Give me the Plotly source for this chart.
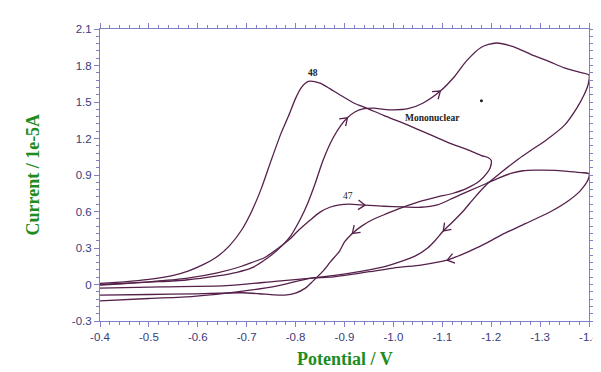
import numpy as np
import plotly.graph_objects as go

# ---------------- tick labels ----------------
x_tick_vals = [-0.4, -0.5, -0.6, -0.7, -0.8, -0.9, -1.0, -1.1, -1.2, -1.3, -1.4]
x_tick_text = ["-0.4", "-0.5", "-0.6", "-0.7", "-0.8", "-0.9", "-1.0", "-1.1", "-1.2", "-1.3", "-1.4"]
y_tick_vals = [-0.3, 0.0, 0.3, 0.6, 0.9, 1.2, 1.5, 1.8, 2.1]
y_tick_text = ["-0.3", "0", "0.3", "0.6", "0.9", "1.2", "1.5", "1.8", "2.1"]

# ---------------- curve "48" ----------------
x48_fwd = [-0.40, -0.45, -0.50, -0.55, -0.58, -0.612, -0.64, -0.665, -0.69, -0.71, -0.73, -0.75, -0.77,
           -0.785, -0.80, -0.812, -0.826, -0.85, -0.87, -0.89, -0.92, -0.945, -0.98, -1.03, -1.07,
           -1.116, -1.15, -1.18, -1.195, -1.20]
y48_fwd = [0.01, 0.022, 0.042, 0.075, 0.11, 0.165, 0.23, 0.32, 0.45, 0.60, 0.79, 1.02, 1.24,
           1.38, 1.53, 1.62, 1.67, 1.655, 1.61, 1.56, 1.49, 1.45, 1.39, 1.31, 1.24,
           1.16, 1.11, 1.06, 1.04, 1.02]
x48_rev = [-1.198, -1.192, -1.176, -1.15, -1.122, -1.09, -1.056, -1.016, -0.985, -0.956, -0.935, -0.916,
           -0.90, -0.89, -0.872, -0.856, -0.836, -0.82, -0.80, -0.778, -0.755, -0.726, -0.69, -0.59,
           -0.50, -0.40]
y48_rev = [0.96, 0.92, 0.85, 0.79, 0.75, 0.72, 0.686, 0.63, 0.58, 0.53, 0.48, 0.42,
           0.35, 0.275, 0.19, 0.11, 0.03, -0.03, -0.07, -0.087, -0.085, -0.076, -0.068, -0.077,
           -0.082, -0.087]

# ---------------- curve "Mononuclear" ----------------
xmono_fwd = [-0.40, -0.50, -0.576, -0.64, -0.68, -0.71, -0.75, -0.775, -0.79, -0.81, -0.825, -0.84,
             -0.856, -0.876, -0.893, -0.906, -0.922, -0.94, -0.96, -0.98, -1.0, -1.03, -1.06, -1.096,
             -1.125, -1.15, -1.18, -1.21, -1.245, -1.282, -1.32, -1.35, -1.38, -1.40]
ymono_fwd = [0.0, 0.02, 0.037, 0.07, 0.10, 0.136, 0.24, 0.33, 0.40, 0.54, 0.67, 0.83,
             1.02, 1.2, 1.31, 1.37, 1.42, 1.445, 1.45, 1.44, 1.435, 1.445, 1.49, 1.59,
             1.71, 1.84, 1.95, 1.985, 1.955, 1.89, 1.83, 1.78, 1.745, 1.72]
xmono_rev = [-1.398, -1.39, -1.375, -1.35, -1.31, -1.28, -1.255, -1.22, -1.19, -1.165, -1.142, -1.12,
             -1.102, -1.085, -1.07, -1.045, -1.016, -0.98, -0.936, -0.88, -0.832, -0.758, -0.658,
             -0.526, -0.40]
ymono_rev = [1.64, 1.56, 1.45, 1.31, 1.18, 1.10, 1.03, 0.92, 0.82, 0.71, 0.60, 0.51,
             0.44, 0.36, 0.30, 0.235, 0.19, 0.145, 0.11, 0.075, 0.053, 0.026, -0.01,
             -0.02, -0.03]

# ---------------- curve "47" ----------------
x47_fwd = [-0.40, -0.50, -0.576, -0.64, -0.69, -0.71, -0.736, -0.765, -0.79, -0.802, -0.83, -0.85,
           -0.87, -0.89, -0.91, -0.942, -0.98, -1.02, -1.056, -1.09, -1.122, -1.155, -1.19, -1.215,
           -1.242, -1.265, -1.29, -1.33, -1.356, -1.385, -1.40]
y47_fwd = [-0.005, 0.022, 0.05, 0.095, 0.15, 0.18, 0.22, 0.30, 0.38, 0.43, 0.53, 0.595,
           0.635, 0.655, 0.66, 0.652, 0.643, 0.638, 0.635, 0.655, 0.71, 0.77, 0.83, 0.875,
           0.915, 0.935, 0.94, 0.938, 0.93, 0.92, 0.91]
x47_rev = [-1.398, -1.382, -1.355, -1.322, -1.27, -1.222, -1.19, -1.156, -1.13, -1.11, -1.08, -1.056,
           -1.0, -0.95, -0.87, -0.832, -0.758, -0.692, -0.592, -0.50, -0.40]
y47_rev = [0.86, 0.77, 0.68, 0.60, 0.50, 0.41, 0.34, 0.275, 0.23, 0.20, 0.175, 0.16,
           0.135, 0.105, 0.06, 0.053, -0.015, -0.054, -0.097, -0.115, -0.135]

# stray dot in the original figure
dot_x = [-1.18]
dot_y = [1.51]

# ---------------- styling ----------------
LINE = "#55204a"
AXIS = "#8080c8"
TICKFONT = "#3a3a7c"
GREEN = "#1e8c1e"
W, H = 601, 372
ML, MR, MT, MB = 92, 9, 21, 59
X_RANGE = [-0.4, -1.4]
Y_RANGE = [-0.3, 2.1]
PX_X = (W - ML - MR) / abs(X_RANGE[1] - X_RANGE[0])
PX_Y = (H - MT - MB) / (Y_RANGE[1] - Y_RANGE[0])

fig = go.Figure()

for xf, yf, xr, yr in [(x48_fwd, y48_fwd, x48_rev, y48_rev),
                       (xmono_fwd, ymono_fwd, xmono_rev, ymono_rev),
                       (x47_fwd, y47_fwd, x47_rev, y47_rev)]:
    fig.add_trace(go.Scatter(x=xf + xr, y=yf + yr, mode="lines",
                             line=dict(color=LINE, width=1.3, shape="spline", smoothing=0.7),
                             hoverinfo="skip", showlegend=False))


def chevron(xs, ys, xv, length=8.5, ang=145):
    xs = np.asarray(xs)
    ys = np.asarray(ys)
    i = int(np.argmin(np.abs(xs - xv)))
    i = min(max(i, 1), len(xs) - 2)
    x0, y0 = xs[i], ys[i]
    dx = -(xs[i + 1] - xs[i - 1]) * PX_X
    dy = (ys[i + 1] - ys[i - 1]) * PX_Y
    n = np.hypot(dx, dy)
    dx, dy = dx / n, dy / n
    pts = []
    for s in (1, -1):
        a = np.radians(ang * s)
        ax = dx * np.cos(a) - dy * np.sin(a)
        ay = dx * np.sin(a) + dy * np.cos(a)
        pts.append((x0 + ax * length / (-PX_X), y0 + ay * length / PX_Y))
    return [pts[0][0], x0, pts[1][0], None], [pts[0][1], y0, pts[1][1], None]


arrows = [(xmono_fwd, ymono_fwd, -0.906), (xmono_fwd, ymono_fwd, -1.096),
          (x47_fwd, y47_fwd, -0.942), (x48_rev, y48_rev, -0.916),
          (xmono_rev, ymono_rev, -1.102), (x47_rev, y47_rev, -1.11)]
ax_all, ay_all = [], []
for xs, ys, xv in arrows:
    cx, cy = chevron(xs, ys, xv)
    ax_all += cx
    ay_all += cy
fig.add_trace(go.Scatter(x=ax_all, y=ay_all, mode="lines",
                         line=dict(color=LINE, width=1.3), hoverinfo="skip", showlegend=False))

fig.add_trace(go.Scatter(x=dot_x, y=dot_y, mode="markers",
                         marker=dict(color="#222222", size=3), hoverinfo="skip", showlegend=False))

label_font = dict(family="Liberation Serif", size=9.5, color="#222222")
fig.add_annotation(x=-0.836, y=1.735, text="<b>48</b>", showarrow=False, font=label_font)
fig.add_annotation(x=-1.08, y=1.37, text="<b>Mononuclear</b>", showarrow=False, font=label_font)
fig.add_annotation(x=-0.908, y=0.73, text="47", showarrow=False,
                   font=dict(family="Liberation Serif", size=9.5, color="#222222"))

title_font = dict(family="Liberation Serif", size=18, color=GREEN)
fig.add_annotation(xref="paper", yref="paper", x=(342 - ML) / (W - ML - MR), y=-(351 - (H - MB)) / (H - MT - MB),
                   text="<b>Potential / V</b>", showarrow=False, font=title_font,
                   xanchor="center", yanchor="middle")
fig.add_annotation(xref="paper", yref="paper", x=-(ML - 23) / (W - ML - MR), y=0.5,
                   text="<b>Current / 1e-5A</b>", showarrow=False, font=title_font, textangle=-90,
                   xanchor="center", yanchor="middle")

axis_common = dict(showline=True, linecolor=AXIS, linewidth=1, mirror="ticks", ticks="outside",
                   ticklen=5, tickcolor=AXIS, tickwidth=1, showgrid=False, zeroline=False,
                   tickfont=dict(family="Liberation Sans", size=11.5, color=TICKFONT))

fig.update_xaxes(range=X_RANGE, tickmode="array", tickvals=x_tick_vals, ticktext=x_tick_text,
                 minor=dict(tickmode="linear", tick0=-0.4, dtick=0.02, ticks="outside", ticklen=3,
                            tickcolor=AXIS, showgrid=False),
                 **axis_common)
fig.update_yaxes(range=Y_RANGE, tickmode="array", tickvals=y_tick_vals, ticktext=y_tick_text,
                 minor=dict(tickmode="linear", tick0=-0.3, dtick=0.06, ticks="outside", ticklen=3,
                            tickcolor=AXIS, showgrid=False),
                 **axis_common)

fig.update_layout(width=W, height=H, autosize=False,
                  margin=dict(l=ML, r=MR, t=MT, b=MB, pad=0),
                  plot_bgcolor="white", paper_bgcolor="white", showlegend=False)

fig.write_html("out.html")
